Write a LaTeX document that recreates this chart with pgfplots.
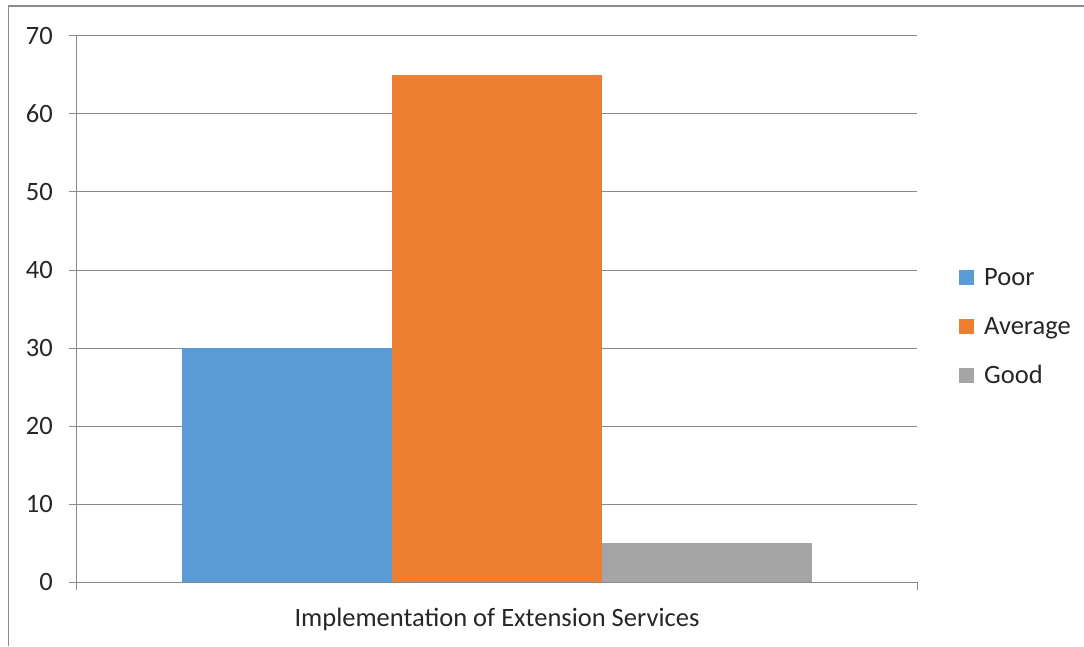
\documentclass[border=0pt]{standalone}
\usepackage{fontspec}
\setmainfont{Carlito}
\usepackage{pgfplots}
\pgfplotsset{compat=1.18}
\definecolor{cPoor}{HTML}{5B9BD5}
\definecolor{cAvg}{HTML}{ED7D31}
\definecolor{cGood}{HTML}{A5A5A5}
\definecolor{gridc}{HTML}{898989}
\definecolor{framec}{HTML}{8C8C8C}
\begin{document}
\begin{tikzpicture}[x=1pt,y=1pt]
\useasboundingbox (-77,-64) rectangle (1007,582);
\draw[framec, line width=1.2pt] (-68.5,-64) -- (-68.5,576) -- (1007,576);
\begin{axis}[
  scale only axis, width=840pt, height=546pt,
  ybar=0pt, bar width=210pt,
  xmin=-1, xmax=1, ymin=0, ymax=70,
  ytick={0,10,...,70},
  xtick={-1,1}, xticklabels={},
  axis x line*=bottom, axis y line*=left,
  axis line style={gridc, line width=1pt, -},
  ymajorgrids, grid style={gridc, line width=1pt},
  tick align=outside, major tick length=8pt,
  tick style={gridc, line width=1pt},
  every tick label/.append style={font=\fontsize{26.5}{32}\selectfont, text=black!85},
  /pgf/number format/assume math mode=true,
  yticklabel style={inner sep=0pt, xshift=-16pt},
  xlabel={Implementation of Extension Services},
  xlabel style={font=\fontsize{26.5}{32}\selectfont, text=black!85, at={(rel axis cs:0.5,0)}, anchor=center, yshift=-37pt},
  legend style={draw=none, fill=none, at={(rel axis cs:1.05,0.467)}, anchor=west,
    font=\fontsize{26.5}{32}\selectfont, text=black!85, row sep=26pt, inner sep=0pt,
    /tikz/every odd column/.append style={column sep=8pt}},
  legend image code/.code={\fill[#1] (0pt,-7.5pt) rectangle (15pt,7.5pt);},
  legend cell align=left,
]
\addplot[fill=cPoor, draw=none] coordinates {(0,30)};
\addplot[fill=cAvg, draw=none] coordinates {(0,65)};
\addplot[fill=cGood, draw=none] coordinates {(0,5)};
\legend{Poor,Average,Good}
\end{axis}
\end{tikzpicture}
\end{document}
